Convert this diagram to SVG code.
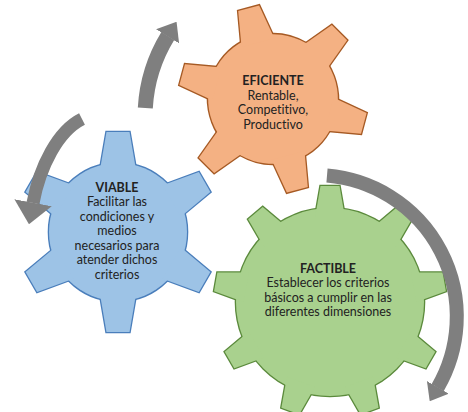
<svg xmlns="http://www.w3.org/2000/svg" xmlns:xlink="http://www.w3.org/1999/xlink" width="468" height="412" viewBox="0 0 468 412">
<style>
.t{font-family:Lato,"Liberation Sans",sans-serif;font-size:12.5px;fill:#222;text-anchor:middle;font-variant-ligatures:none}
.b{font-weight:bold}
.arrow{fill:none;stroke:#7F7F7F;stroke-linecap:butt}
</style>
<defs>
<marker id="head" viewBox="0 0 11.5 18" refX="0.3" refY="9" markerWidth="1.15" markerHeight="1.8" markerUnits="strokeWidth" orient="auto">
<path d="M0,0 L11.5,9 L0,18 Z" fill="#7F7F7F"/>
</marker>
<marker id="head2" viewBox="0 0 22 38" refX="0.3" refY="19" markerWidth="22" markerHeight="38" markerUnits="userSpaceOnUse" orient="auto">
<path d="M0,0 L22,19 L0,38 Z" fill="#7F7F7F"/>
</marker>
<path id="t6" d="M-18.05,-62 L-11.5,-100 L11.5,-100 L18.05,-62 Z"/>
<g id="gear6">
<circle r="69"/>
<use xlink:href="#t6"/>
<use xlink:href="#t6" transform="rotate(60)"/>
<use xlink:href="#t6" transform="rotate(120)"/>
<use xlink:href="#t6" transform="rotate(180)"/>
<use xlink:href="#t6" transform="rotate(240)"/>
<use xlink:href="#t6" transform="rotate(300)"/>
</g>
<path id="t9" d="M-14.9,-85 L-9.5,-116 L9.5,-116 L14.9,-85 Z"/>
<g id="gear9">
<circle r="94"/>
<use xlink:href="#t9"/>
<use xlink:href="#t9" transform="rotate(40)"/>
<use xlink:href="#t9" transform="rotate(80)"/>
<use xlink:href="#t9" transform="rotate(120)"/>
<use xlink:href="#t9" transform="rotate(160)"/>
<use xlink:href="#t9" transform="rotate(200)"/>
<use xlink:href="#t9" transform="rotate(240)"/>
<use xlink:href="#t9" transform="rotate(280)"/>
<use xlink:href="#t9" transform="rotate(320)"/>
</g>
</defs>

<g id="factible">
<g transform="translate(330,302)">
<use xlink:href="#gear9" fill="#5B8A3C" stroke="#5B8A3C" stroke-width="2.6"/>
<use xlink:href="#gear9" fill="#A9D18E"/>
</g>
<text class="t b" x="328" y="272.5">FACTIBLE</text>
<text class="t" x="328" y="287">Establecer los criterios</text>
<text class="t" x="328" y="301.5">básicos a cumplir en las</text>
<text class="t" x="328" y="316">diferentes dimensiones</text>
</g>

<g id="viable">
<g transform="translate(118,232)">
<use xlink:href="#gear6" fill="#4A7EBB" stroke="#4A7EBB" stroke-width="2.6"/>
<use xlink:href="#gear6" fill="#9DC3E6"/>
</g>
<text class="t b" x="117" y="191.5">VIABLE</text>
<text class="t" x="117" y="206">Facilitar las</text>
<text class="t" x="117" y="220.5">condiciones y</text>
<text class="t" x="117" y="235">medios</text>
<text class="t" x="117" y="249.5">necesarios para</text>
<text class="t" x="117" y="264">atender dichos</text>
<text class="t" x="117" y="278.5">criterios</text>
</g>

<g id="eficiente">
<g transform="translate(273,99) rotate(-15) scale(0.94)">
<use xlink:href="#gear6" fill="#A65A24" stroke="#A65A24" stroke-width="2.8"/>
<use xlink:href="#gear6" fill="#F4B183"/>
</g>
<text class="t b" x="273" y="85">EFICIENTE</text>
<text class="t" x="273" y="99.5">Rentable,</text>
<text class="t" x="273" y="114">Competitivo,</text>
<text class="t" x="273" y="128.5">Productivo</text>
</g>

<g id="connectors">
<path class="arrow" marker-end="url(#head)" stroke-width="15" d="M145.3,108 A155,155 0 0 1 167.8,36"/>
<path class="arrow" marker-end="url(#head2)" stroke-width="13" d="M82,119 C58,131 40,166 33,203"/>
<path class="arrow" marker-end="url(#head)" stroke-width="14" d="M327,175.5 A141.6,141.6 0 0 1 437.6,387.8"/>
</g>
</svg>
